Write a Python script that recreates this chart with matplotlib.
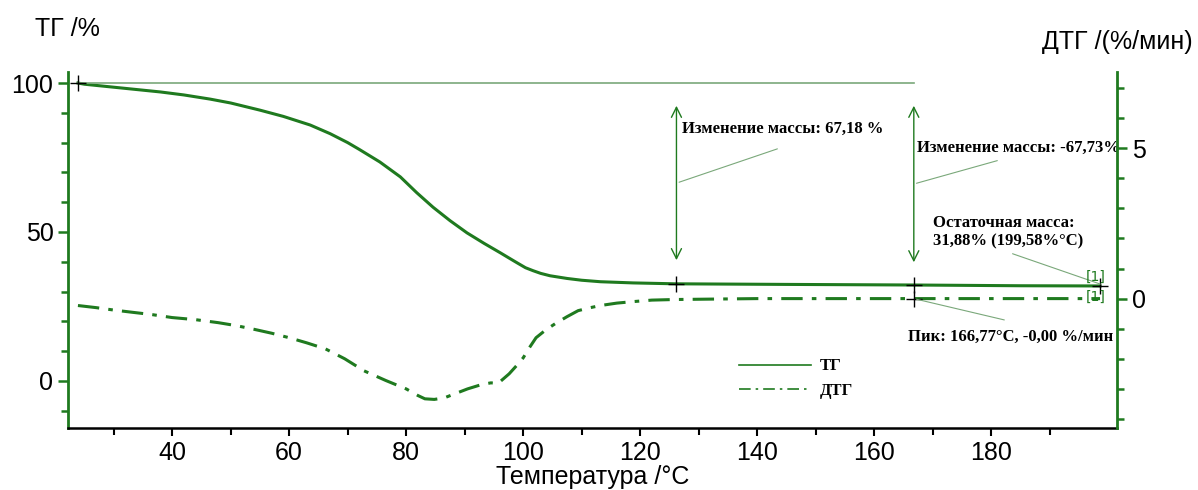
import matplotlib
matplotlib.use('Agg')
import matplotlib.pyplot as plt
from matplotlib.lines import Line2D

# TG curve (temperature in C, mass in %)
tg_temp = [23.9, 25.0, 28.0, 31.0, 35.0, 38.0, 42.0, 46.5, 50.0, 55.0, 59.0,
           63.6, 67.0, 70.0, 72.0, 75.5, 79.0, 81.8, 84.6, 87.5, 90.4, 93.3,
           96.1, 97.8, 99.0, 100.4, 101.7, 103.0, 104.6, 107.5, 110.0, 113.2,
           118.8, 126.0, 145.0, 166.7, 185.0, 198.6]
tg_mass = [100.0, 99.6, 99.0, 98.4, 97.6, 97.0, 96.0, 94.6, 93.3, 90.9, 88.8,
           85.9, 83.0, 80.0, 77.7, 73.5, 68.5, 63.2, 58.3, 53.8, 49.7, 46.2,
           43.0, 41.0, 39.6, 38.0, 37.0, 36.1, 35.3, 34.4, 33.8, 33.3,
           32.9, 32.6, 32.4, 32.2, 31.95, 31.88]

# DTG curve (temperature in C, %/min)
dtg_temp = [23.9, 27.0, 30.0, 33.0, 36.5, 40.0, 44.0, 47.9, 51.0, 54.0, 57.0,
            60.0, 63.0, 66.2, 69.5, 72.8, 76.5, 80.0, 82.0, 83.2, 84.8, 86.5,
            88.5, 90.5, 93.0, 94.5, 95.7, 97.6, 99.0, 100.0, 101.0, 102.2,
            103.8, 105.5, 107.5, 109.4, 111.5, 113.2, 116.0, 118.8, 122.0,
            126.0, 140.0, 166.77, 185.0, 198.6]
dtg_rate = [-0.23, -0.3, -0.38, -0.45, -0.53, -0.63, -0.7, -0.8, -0.9, -1.02, -1.15,
            -1.3, -1.47, -1.67, -2.0, -2.4, -2.72, -3.0, -3.22, -3.33, -3.35, -3.3,
            -3.15, -3.0, -2.85, -2.8, -2.82, -2.5, -2.2, -1.97, -1.65, -1.3,
            -1.05, -0.83, -0.6, -0.4, -0.3, -0.23, -0.15, -0.1, -0.05,
            -0.03, 0.0, 0.0, 0.0, 0.0]

green = '#1f7a1f'
light = '#7aa87a'
dashdot = (0, (7, 3, 1.5, 3))

fig = plt.figure(figsize=(11.98, 4.90), dpi=100)
ax = fig.add_axes([68/1198, 1-428/490, (1117-68)/1198, (428-72)/490])
ax2 = ax.twinx()

ax.plot(tg_temp, tg_mass, color=green, lw=2.2)
ax2.plot(dtg_temp, dtg_rate, color=green, lw=2.2, linestyle=dashdot)

# 100 % reference line
ax.plot([23.9, 166.77], [100, 100], color=light, lw=1.2)

ax.set_xlim(22.2, 201.5)
ax.set_ylim(-15.8, 103.7)
ax2.set_ylim(-4.3, 7.53)

ax.set_xticks([40, 60, 80, 100, 120, 140, 160, 180])
ax.set_xticks(range(30, 200, 20), minor=True)
ax.set_yticks([0, 50, 100])
ax.set_yticks(range(-10, 101, 10), minor=True)
ax2.set_yticks([0, 5])
ax2.set_yticks(range(-4, 8), minor=True)

for a in (ax, ax2):
    a.spines['top'].set_visible(False)
ax.spines['left'].set_color(green)
ax.spines['left'].set_linewidth(2)
ax2.spines['right'].set_color(green)
ax2.spines['right'].set_linewidth(2)
ax2.spines['left'].set_visible(False)
ax2.spines['bottom'].set_visible(False)
ax.spines['right'].set_visible(False)
ax.spines['bottom'].set_linewidth(1.8)

for a in (ax, ax2):
    a.tick_params(axis='y', which='both', colors=green, labelcolor='black',
                  labelsize=18, width=1.8)
    a.tick_params(axis='y', which='major', length=7)
    a.tick_params(axis='y', which='minor', length=5)
ax.tick_params(axis='x', which='both', labelsize=18, width=1.5)
ax.tick_params(axis='x', which='major', length=6)
ax.tick_params(axis='x', which='minor', length=5)

for lbl in ax.get_xticklabels() + ax.get_yticklabels() + ax2.get_yticklabels():
    lbl.set_fontfamily('Liberation Sans')

fig.text(35/1198, 1-29/490, 'ТГ /%', fontsize=18, family='Liberation Sans',
         va='center', ha='left')
fig.text(1193/1198, 1-42/490, 'ДТГ /(%/мин)', fontsize=18, family='Liberation Sans',
         va='center', ha='right')
fig.text(593/1198, 1-477/490, 'Температура /°C', fontsize=18, family='Liberation Sans',
         va='center', ha='center')

# crosshair markers
ax.plot([23.9, 126.2, 166.77, 198.6], [100, 32.6, 32.2, 31.88], '+',
        color='black', ms=12, mew=1)
ax2.plot([166.77], [0.0], '+', color='black', ms=12, mew=1)

# double arrows for mass change
arr = dict(arrowstyle='<->', color=green, lw=1, mutation_scale=18)
ax.annotate('', xy=(126.2, 93.3), xytext=(126.2, 39.6), arrowprops=arr)
ax.annotate('', xy=(166.77, 93.3), xytext=(166.77, 38.9), arrowprops=arr)

lead = dict(arrowstyle='-', color=light, lw=0.8)
ax.annotate('', xy=(126.2, 66.4), xytext=(143.9, 78.2), arrowprops=lead)
ax.annotate('', xy=(166.77, 66.1), xytext=(181.5, 74.2), arrowprops=lead)
ax.annotate('', xy=(199.1, 32.2), xytext=(183.2, 43.0), arrowprops=lead)
ax2.annotate('', xy=(166.77, 0.0), xytext=(182.7, -0.73), arrowprops=lead)

serif = dict(family='Liberation Serif', fontweight='bold', fontsize=12)
ax.text(127.2, 84.6, 'Изменение массы: 67,18 %', va='center', ha='left', **serif)
ax.text(167.4, 78.2, 'Изменение массы: -67,73%', va='center', ha='left', **serif)
ax.text(170.1, 50.0, 'Остаточная масса:\n31,88% (199,58%°C)', va='center',
        ha='left', linespacing=1.2, **serif)
ax2.text(165.8, -1.27, 'Пик: 166,77°C, -0,00 %/мин', va='center', ha='left', **serif)

ax.text(197.8, 34.8, '[1]', color=green, fontsize=10, ha='center', va='center')
ax2.text(197.8, 0.05, '[1]', color=green, fontsize=10, ha='center', va='center')

handles = [Line2D([], [], color=green, lw=1.2),
           Line2D([], [], color=green, lw=1.2, linestyle=dashdot)]
leg = ax2.legend(handles, ['ТГ', 'ДТГ'], loc='upper left',
                 bbox_to_anchor=((731-68)/1049, (428-350)/356), frameon=False,
                 borderpad=0, handlelength=4.3, handletextpad=0.5,
                 labelspacing=0.5, prop=dict(family='Liberation Serif',
                                             weight='bold', size=12))

fig.savefig('out.png', dpi=100)
